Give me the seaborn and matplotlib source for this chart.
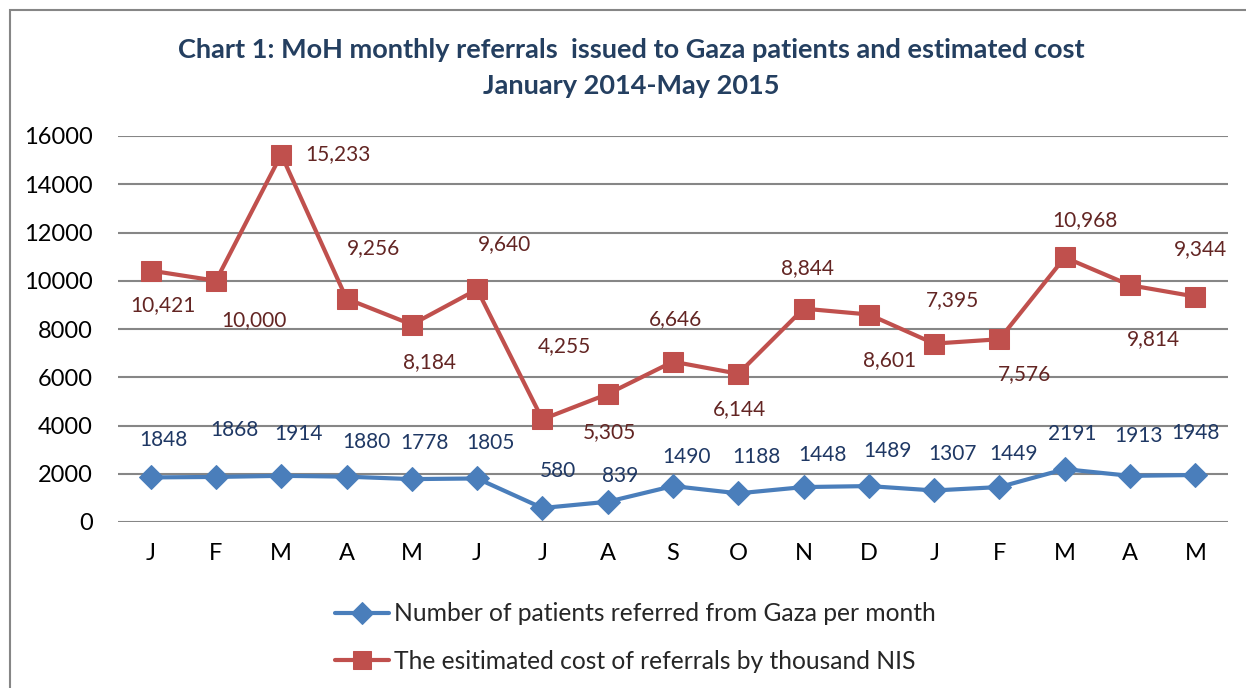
import pandas as pd
import matplotlib.pyplot as plt
import seaborn as sns
from matplotlib.patches import Rectangle

#==============================================================
# 1. Data (Jan 2014 - May 2015)
#==============================================================

months = ["J", "F", "M", "A", "M", "J", "J", "A", "S", "O", "N", "D", "J", "F", "M", "A", "M"]
patients = [1848, 1868, 1914, 1880, 1778, 1805, 580, 839, 1490, 1188, 1448, 1489, 1307, 1449, 2191, 1913, 1948]
cost = [10421, 10000, 15233, 9256, 8184, 9640, 4255, 5305, 6646, 6144, 8844, 8601, 7395, 7576, 10968, 9814, 9344]

patients_label = "Number of patients referred from Gaza per month"
cost_label = "The esitimated cost of referrals by thousand NIS"

# label offsets in pixels (dx, dy) from each point
patients_off = [(13, 37), (18, 47), (17, 42), (20, 35), (13, 36), (13, 35), (16, 37), (12, 26), (14, 29),
                (18, 36), (19, 32), (19, 35), (18, 36), (14, 33), (7, 35), (8, 40), (0, 42)]
cost_off = [(12, -35), (38, -39), (57, 0), (27, 51), (18, -38), (27, 45), (22, 73), (2, -38), (2, 43),
            (1, -35), (4, 41), (21, -46), (18, 44), (25, -35), (20, 37), (23, -54), (5, 47)]

BLUE = "#4A7EBB"
RED = "#C0504D"
BLUE_TXT = "#1F3864"
RED_TXT = "#632523"

#==============================================================
# 2. Plot
#==============================================================

sns.set_style("white")
plt.rcParams["font.family"] = ["Lato", "DejaVu Sans"]

df = pd.DataFrame({"idx": range(len(months)), "patients": patients, "cost": cost})

fig = plt.figure(figsize=(12.46, 6.88), dpi=100)
ax = fig.add_axes([118 / 1246, 1 - 522 / 688, 1110 / 1246, 386 / 688])

sns.lineplot(data=df, x="idx", y="patients", ax=ax, color=BLUE, lw=3, marker="D",
             markersize=12, markeredgecolor=BLUE, label=patients_label, sort=False)
sns.lineplot(data=df, x="idx", y="cost", ax=ax, color=RED, lw=3, marker="s",
             markersize=14, markeredgecolor=RED, label=cost_label, sort=False)

for i, v in enumerate(patients):
    ax.annotate(str(v), (i, v), xytext=patients_off[i], textcoords="offset pixels",
                ha="center", va="center", fontsize=15, color=BLUE_TXT)
for i, v in enumerate(cost):
    ax.annotate(f"{v:,}", (i, v), xytext=cost_off[i], textcoords="offset pixels",
                ha="center", va="center", fontsize=15, color=RED_TXT)

ax.set_xlim(-0.5, len(months) - 0.5)
ax.set_ylim(0, 16000)
ax.set_yticks(range(0, 16001, 2000))
ax.set_xticks(range(len(months)))
ax.set_xticklabels(months)
ax.tick_params(axis="both", length=0, labelsize=17, colors="black")
ax.tick_params(axis="y", pad=18)
ax.tick_params(axis="x", pad=15)
ax.set_xlabel("")
ax.set_ylabel("")
ax.grid(axis="y", color="#868686", lw=1.5)
ax.set_axisbelow(True)
for s in ax.spines.values():
    s.set_visible(False)

handles, labels = ax.get_legend_handles_labels()
ax.legend_.remove()
fig.legend(handles, labels, loc="upper center", bbox_to_anchor=(0.51, 1 - 580 / 688), frameon=False,
           fontsize=17.7, handlelength=2.2, handletextpad=0.2, labelspacing=1.0, markerscale=0.9)

fig.text(0.507, 1 - 50 / 688, "Chart 1: MoH monthly referrals  issued to Gaza patients and estimated cost",
         ha="center", va="center", fontsize=19.5, fontweight="bold", color="#243F60")
fig.text(0.507, 1 - 86 / 688, "January 2014-May 2015",
         ha="center", va="center", fontsize=19.5, fontweight="bold", color="#243F60")

fig.patches.append(Rectangle((10 / 1246, -0.05), 1.1, 1.05 - 10 / 688, transform=fig.transFigure,
                             fill=False, edgecolor="#868686", lw=1.5))

plt.savefig("out.png", dpi=100)
plt.close()
